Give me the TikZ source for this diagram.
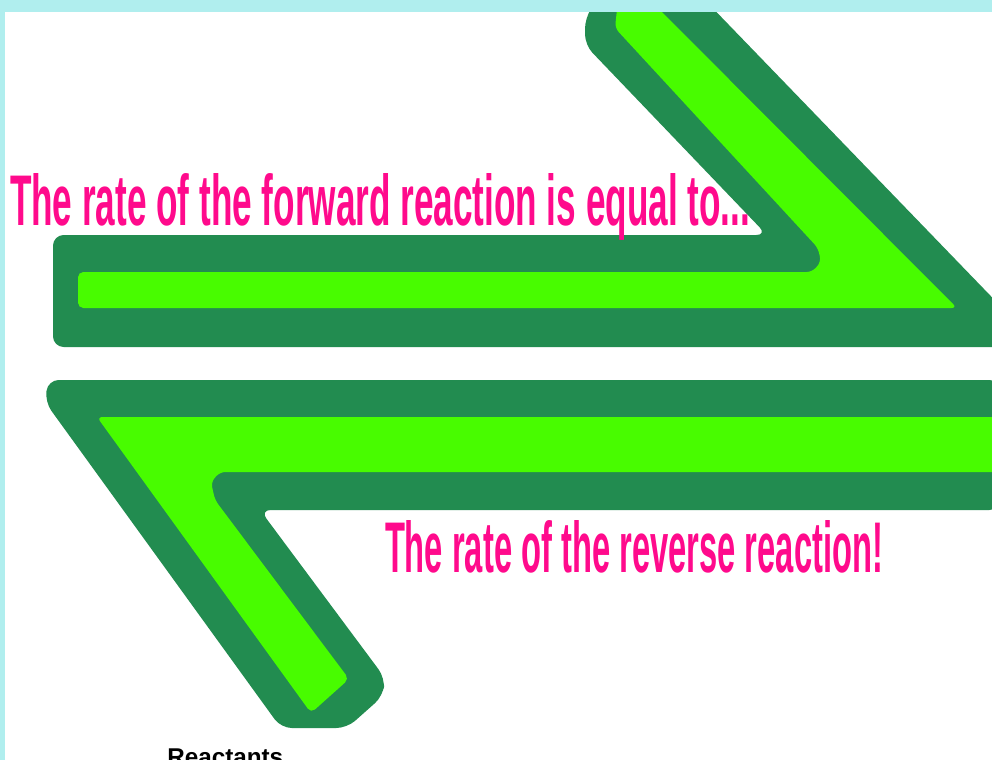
\documentclass[tikz,border=0pt]{standalone}
\usepackage{fontspec}
\setmainfont{Liberation Sans}
\usepackage{graphicx}
\definecolor{bgcyan}{RGB}{176,238,238}
\definecolor{darkgr}{RGB}{34,140,80}
\definecolor{lightgr}{RGB}{72,252,0}
\definecolor{hotpink}{RGB}{255,10,140}
\tikzset{
  outerpart/.style={fill=darkgr, rounded corners=8},
  innerpart/.style={fill=lightgr, rounded corners=4},
  pinklabel/.style={anchor=base west, inner sep=0pt, outer sep=0pt, text=hotpink, font=\bfseries},
}
\begin{document}
\begin{tikzpicture}[x=0.75pt,y=-0.75pt]
\useasboundingbox (0,0) rectangle (992,760);
\fill[bgcyan] (0,0) rectangle (992,760);
\fill[white] (5,12) rectangle (992,760);
\begin{scope}
\clip (5,12) rectangle (992,760);
% top harpoon (forward)
\fill[outerpart] (53,235) -- (767,235) -- (585,45) -- (585,18) -- (600,-5) -- (700,-5) -- (1040,347) -- (53,347) -- cycle;
\fill[innerpart] (78,272) -- (812,272) -- (821,262) -- (818,248) -- (615,28) -- (618,0) -- (650,0) -- (957,308) -- (78,308) -- cycle;
% bottom harpoon (reverse)
\fill[outerpart] (48,380) -- (1000,380) -- (1000,510) -- (260,510) -- (385,678) -- (383,696) -- (347,728) -- (281,728) -- (45,402) -- cycle;
\fill[innerpart] (97,417) -- (1000,417) -- (1000,472) -- (220,472) -- (211,482) -- (215,500) -- (349,679) -- (311,713) -- cycle;
% texts
\node[pinklabel] (fwd) at (10,225) {\resizebox{555pt}{39pt}{The rate of the forward reaction is equal to...}};
\node[pinklabel] (rev) at (385,572) {\resizebox{373.5pt}{39pt}{The rate of the reverse reaction!}};
\node[anchor=base west, inner sep=0pt, font=\bfseries\fontsize{18.2pt}{22pt}\selectfont] (reac) at (167,765.5) {Reactants};
\end{scope}
\end{tikzpicture}
\end{document}
